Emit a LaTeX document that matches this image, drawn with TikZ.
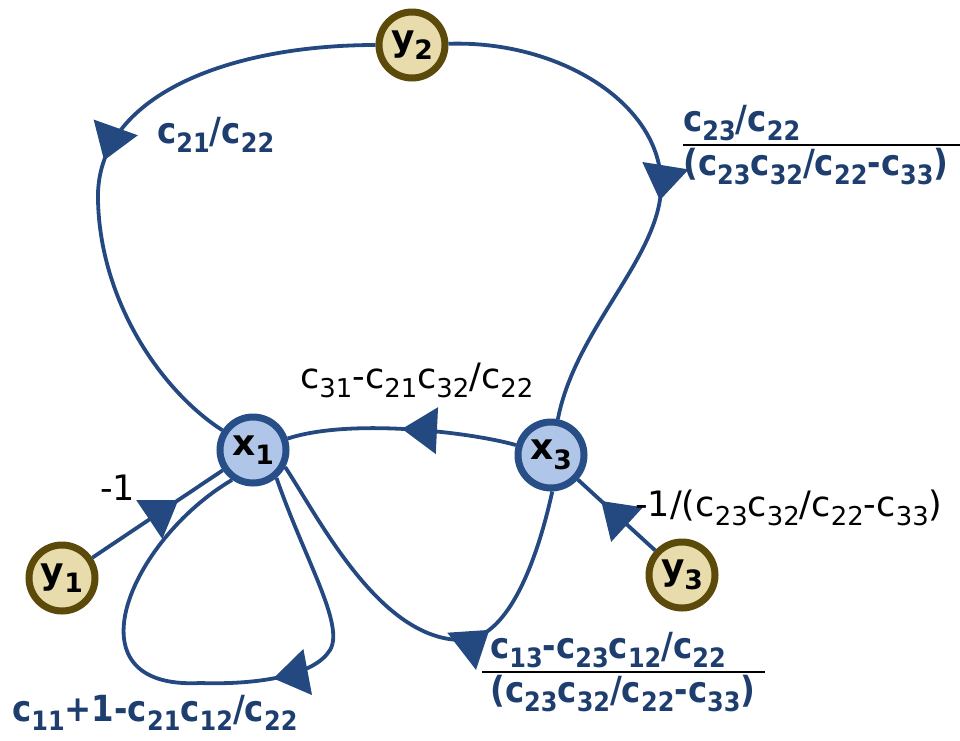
\documentclass[tikz,border=0pt]{standalone}
\usepackage{fontspec}
\setmainfont{DejaVu Sans}
\newfontfamily\gainfont{DejaVu Sans}[FakeStretch=0.9]
\usepackage{array}
\usetikzlibrary{arrows.meta,decorations.markings}

\definecolor{edgeblue}{RGB}{36,72,128}
\definecolor{gainblue}{RGB}{30,62,112}
\definecolor{xfill}{RGB}{176,198,232}
\definecolor{xdraw}{RGB}{40,78,136}
\definecolor{yfill}{RGB}{232,220,172}
\definecolor{ydraw}{RGB}{92,74,10}

\setlength{\arrayrulewidth}{2pt}
\newcommand{\sbx}[1]{\raisebox{-0.26em}{\scalebox{0.74}{#1}}}

\begin{document}
\begin{tikzpicture}[x=1pt, y=-1pt,
  every node/.style={font=\fontsize{35}{42}\selectfont},
  xvar/.style={circle, draw=xdraw, fill=xfill, line width=7pt, minimum size=66pt,
    inner sep=0pt, font=\fontsize{36}{42}\selectfont\bfseries},
  yvar/.style={xvar, draw=ydraw, fill=yfill},
  gain/.style={inner sep=0pt, anchor=base west},
  bgain/.style={gain, text=gainblue, font=\fontsize{36}{42}\gainfont\bfseries},
  bfrac/.style={inner sep=0pt, anchor=west, font=\fontsize{36}{42}\gainfont\bfseries},
  flow/.style={draw=edgeblue, line width=3.8pt, postaction={decorate},
    decoration={markings, mark=at position #1 with {\arrow[edgeblue]{Triangle[length=35pt,width=46pt]}}}},
]
\useasboundingbox (0,0) rectangle (960,740);

\node[yvar] (y2) at (412,45) {y\sbx{2}};
\node[xvar] (x1) at (253,450) {x\sbx{1}};
\node[xvar] (x3) at (551,455) {x\sbx{3}};
\node[yvar] (y1) at (62,578) {y\sbx{1}};
\node[yvar] (y3) at (682,575) {y\sbx{3}};

\draw[flow=0.5] (y2) .. controls (230,45) and (95,95) .. (98,200)
  .. controls (100,300) and (160,390) .. (x1);
\draw[flow=0.55] (y2) .. controls (560,40) and (665,105) .. (661,190)
  .. controls (657,260) and (575,330) .. (x3);
\draw[flow=0.5] (x3) .. controls (470,432) and (350,418) .. (x1);
\draw[flow=0.66] (y1) -- (x1);
\draw[flow=0.7] (y3) -- (x3);
\draw[flow=0.65] (x1.-28) .. controls (320,520) and (380,640) .. (462,640)
  .. controls (505,640) and (535,570) .. (x3.-88);
\draw[flow=0.4] (x1.-50) .. controls (305,560) and (345,625) .. (330,650)
  .. controls (315,675) and (260,685) .. (200,683)
  .. controls (65,690) and (130,540) .. (x1.235);

\node[gain] (g31) at (300,388) {c\sbx{31}-c\sbx{21}c\sbx{32}/c\sbx{22}};
\node[gain] (g1) at (100,500) {-1};
\node[gain] (g3) at (635,516) {-1/(c\sbx{23}c\sbx{32}/c\sbx{22}-c\sbx{33})};
\node[bgain] (g21) at (157,143) {c\sbx{21}/c\sbx{22}};
\node[bgain] (g11) at (12,721) {c\sbx{11}+1-c\sbx{21}c\sbx{12}/c\sbx{22}};
\node[bfrac] (g23) at (683,145) {\begin{tabular}{@{}>{\color{gainblue}}l@{\hspace{12pt}}}
  c\sbx{23}/c\sbx{22}\\ \hline
  (c\sbx{23}c\sbx{32}/c\sbx{22}-c\sbx{33})\end{tabular}};
\node[bfrac] (g13) at (482,672) {\begin{tabular}{@{\hspace{8pt}}>{\color{gainblue}}l@{\hspace{10pt}}}
  c\sbx{13}-c\sbx{23}c\sbx{12}/c\sbx{22}\\ \hline
  (c\sbx{23}c\sbx{32}/c\sbx{22}-c\sbx{33})\end{tabular}};

\end{tikzpicture}
\end{document}
